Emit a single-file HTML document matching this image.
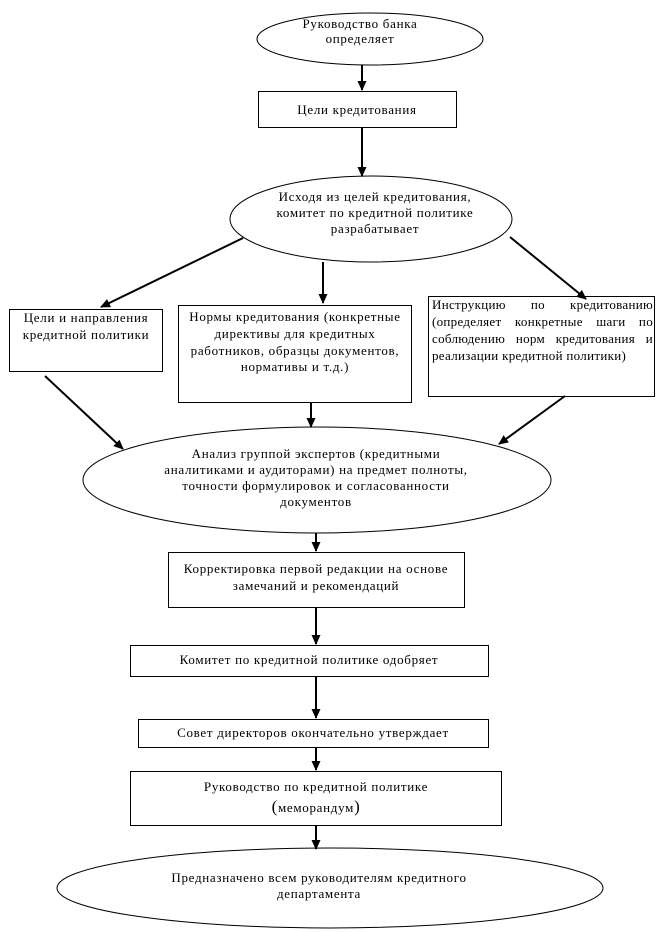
<!DOCTYPE html>
<html><head><meta charset="utf-8"><style>
html,body{margin:0;padding:0;background:#fff;}
svg{display:block;}
text{font-family:"Liberation Serif",serif;font-size:13px;letter-spacing:0.7px;fill:#000;}
.j{position:absolute;left:432px;top:296px;width:221px;font-family:"Liberation Serif",serif;font-size:13px;letter-spacing:0.3px;line-height:17px;}
.j div{text-align:justify;text-align-last:justify;white-space:nowrap;}
.j div.l{text-align-last:left;}
</style></head><body>
<div style="position:relative;width:664px;height:932px;">
<svg width="664" height="932" viewBox="0 0 664 932" xmlns="http://www.w3.org/2000/svg">
<defs><marker id="a" markerWidth="10" markerHeight="10" refX="9" refY="5" orient="auto" markerUnits="userSpaceOnUse"><path d="M0,0.5 L10,5 L0,9.5 z" fill="#000"/></marker></defs>
<g fill="none" stroke="#000" stroke-width="1">
<ellipse cx="370" cy="39" rx="113" ry="26"/>
<rect x="258.5" y="91.5" width="198" height="36"/>
<ellipse cx="371" cy="219" rx="141" ry="43"/>
<rect x="9.5" y="309.5" width="153" height="62"/>
<rect x="178.5" y="305.5" width="233" height="97"/>
<rect x="428.5" y="296.5" width="226" height="100"/>
<ellipse cx="317" cy="480" rx="234" ry="53"/>
<rect x="168.5" y="552.5" width="296" height="55"/>
<rect x="130.5" y="645.5" width="358" height="31"/>
<rect x="138.5" y="719.5" width="350" height="28"/>
<rect x="130.5" y="771.5" width="371" height="54"/>
<ellipse cx="330" cy="888" rx="273" ry="40"/>
</g>
<g stroke="#000" stroke-width="2" marker-end="url(#a)">
<line x1="362" y1="65" x2="362" y2="90"/>
<line x1="362" y1="127" x2="362" y2="176"/>
<line x1="243" y1="238" x2="101" y2="307"/>
<line x1="323" y1="262" x2="323" y2="303"/>
<line x1="510" y1="237" x2="586" y2="299"/>
<line x1="45" y1="376" x2="123" y2="449"/>
<line x1="311" y1="402" x2="311" y2="427"/>
<line x1="565" y1="396" x2="499" y2="444"/>
<line x1="316" y1="533" x2="316" y2="551"/>
<line x1="316" y1="608" x2="316" y2="644"/>
<line x1="316" y1="677" x2="316" y2="718"/>
<line x1="316" y1="748" x2="316" y2="770"/>
<line x1="316" y1="826" x2="316" y2="849"/>
</g>
<g text-anchor="middle">
<text x="360" y="28">Руководство банка</text>
<text x="360" y="43">определяет</text>
<text x="357" y="114">Цели кредитования</text>
<text x="375" y="201">Исходя из целей кредитования,</text>
<text x="375" y="217">комитет по кредитной политике</text>
<text x="375" y="233">разрабатывает</text>
<text x="86" y="322">Цели и направления</text>
<text x="86" y="339">кредитной политики</text>
<text x="295" y="321">Нормы кредитования (конкретные</text>
<text x="295" y="338">директивы для кредитных</text>
<text x="295" y="355">работников, образцы документов,</text>
<text x="295" y="371">нормативы и т.д.)</text>
<text x="316" y="458">Анализ группой экспертов  (кредитными</text>
<text x="316" y="474">аналитиками и аудиторами) на предмет полноты,</text>
<text x="316" y="490">точности формулировок и согласованности</text>
<text x="316" y="506">документов</text>
<text x="316" y="573">Корректировка первой редакции на основе</text>
<text x="316" y="590">замечаний и рекомендаций</text>
<text x="309" y="664">Комитет по кредитной политике одобряет</text>
<text x="313" y="737">Совет директоров окончательно утверждает</text>
<text x="316" y="791">Руководство по кредитной политике</text>
<text x="316" y="812"><tspan font-size="17">(</tspan>меморандум<tspan font-size="17">)</tspan></text>
<text x="319" y="882">Предназначено всем руководителям кредитного</text>
<text x="319" y="898">департамента</text>
</g>
</svg>
<div class="j">
<div>Инструкцию по кредитованию</div>
<div>(определяет конкретные шаги по</div>
<div>соблюдению норм кредитования и</div>
<div class="l">реализации кредитной политики)</div>
</div>
</div>
</body></html>
